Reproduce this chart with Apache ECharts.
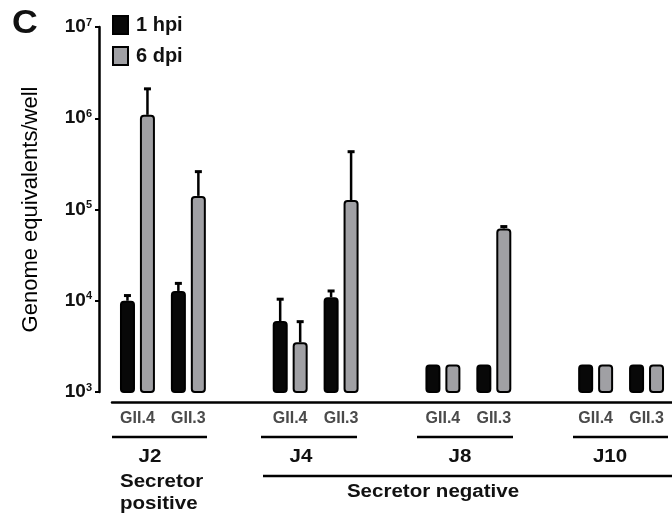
<!DOCTYPE html>
<html><head><meta charset="utf-8">
<script src="https://cdn.jsdelivr.net/npm/echarts@6/dist/echarts.min.js"></script>
<style>html,body{margin:0;padding:0;background:#fff}#c{width:672px;height:516px}</style>
</head><body><div id="c"></div>
<script>
// ---- data ----
const categories = ['J2 GII.4','J2 GII.3','gap-a','J4 GII.4','J4 GII.3','gap-b','J8 GII.4','J8 GII.3','gap-c','J10 GII.4','J10 GII.3'];
const genotypeLabels = ['GII.4','GII.3','','GII.4','GII.3','','GII.4','GII.3','','GII.4','GII.3'];
const seriesNames = ['1 hpi','6 dpi'];
const hpi1 = [10000, 12800, null, 6000, 10900, null, 2000, 2000, null, 2000, 2000];
const dpi6 = [1090000, 141000, null, 3500, 127000, null, 2000, 62000, null, 2000, 2000];
const hpi1Upper = [11400, 15500, null, 10400, 12800, null, null, null, null, null, null];
const dpi6Upper = [2100000, 260000, null, 5900, 430000, null, null, 65000, null, null, null];
const yTickExponents = [3, 4, 5, 6, 7];
const yTitle = 'Genome equivalents/well';
const panelLetter = 'C';
const donorLabels = ['J2', 'J4', 'J8', 'J10'];
const secretorPositive = ['Secretor', 'positive'];
const secretorNegative = 'Secretor negative';

// ---- chart ----
const FONT = '"Liberation Sans", Arial, Helvetica, sans-serif';
const chart = echarts.init(document.getElementById('c'), null, {renderer: 'canvas'});
const BAR_OFF = 10;

function errorSeries(upper, values, offset) {
  const data = [];
  upper.forEach((u, i) => { if (u != null && values[i] != null) data.push([i, values[i], u]); });
  return {
    type: 'custom', z: 1, silent: true,
    encode: {x: 0, y: [1, 2]},
    data: data,
    renderItem(params, api) {
      const i = api.value(0);
      const lo = api.coord([i, api.value(1)]);
      const hi = api.coord([i, api.value(2)]);
      const x = lo[0] + offset;
      return {type: 'group', children: [
        {type: 'line', shape: {x1: x, y1: lo[1], x2: x, y2: hi[1]}, style: {stroke: '#000', lineWidth: 2.5}},
        {type: 'line', shape: {x1: x - 3.5, y1: hi[1], x2: x + 3.5, y2: hi[1]}, style: {stroke: '#000', lineWidth: 3}}
      ]};
    }
  };
}

function txt(text, x, y, size, align, scaleX, weight) {
  return {type: 'text', x: x, y: y, scaleX: scaleX || 1, z: 10,
    style: {text: text, x: 0, y: 0, fontSize: size, fontWeight: weight || 'bold', fontFamily: FONT, fill: '#111',
      align: align, textAlign: align, verticalAlign: 'middle', textVerticalAlign: 'middle'}};
}
function hline(x1, x2, y) {
  return {type: 'line', z: 10, shape: {x1: x1, y1: y, x2: x2, y2: y}, style: {stroke: '#000', lineWidth: 2.5}};
}

const option = {
  animation: false,
  backgroundColor: '#fff',
  textStyle: {fontFamily: FONT},
  grid: {left: 112, right: 0, top: 27, bottom: 124, containLabel: false},
  legend: {
    orient: 'vertical', left: 112, top: 15, padding: 0, itemWidth: 15, itemHeight: 18, itemGap: 11,
    icon: 'rect',
    textStyle: {fontSize: 20, fontWeight: 'bold', color: '#111', fontFamily: FONT, padding: [0, 0, 0, 3]},
    data: [
      {name: seriesNames[0], itemStyle: {color: '#080808', borderColor: '#000', borderWidth: 2}},
      {name: seriesNames[1], itemStyle: {color: '#a0a0a4', borderColor: '#000', borderWidth: 2}}
    ]
  },
  xAxis: {
    type: 'category', data: categories, offset: 10,
    axisLine: {lineStyle: {color: '#000', width: 2.5}},
    axisTick: {alignWithLabel: true, length: 3, lineStyle: {color: '#000', width: 2}},
    axisLabel: {interval: 0, margin: 9, color: '#4a4a4a', fontWeight: 'bold', fontSize: 16, fontFamily: FONT,
      formatter: (v, idx) => genotypeLabels[idx]}
  },
  yAxis: {
    type: 'log', logBase: 10, min: Math.pow(10, yTickExponents[0]), max: Math.pow(10, yTickExponents[yTickExponents.length - 1]),
    offset: 13,
    name: yTitle, nameLocation: 'middle', nameGap: 57, nameRotate: 90,
    nameTextStyle: {fontSize: 22, color: '#000', fontFamily: FONT},
    splitLine: {show: false},
    axisLine: {show: true, lineStyle: {color: '#000', width: 2.5}},
    axisTick: {show: true, length: 4, lineStyle: {color: '#000', width: 2}},
    axisLabel: {
      margin: 7,
      formatter: v => '{b|10}{s|' + Math.round(Math.log10(v)) + '}',
      rich: {
        b: {fontSize: 19, fontWeight: 'bold', color: '#111', fontFamily: FONT, lineHeight: 20},
        s: {fontSize: 11, fontWeight: 'bold', color: '#111', fontFamily: FONT, verticalAlign: 'top', lineHeight: 11}
      }
    }
  },
  series: [
    {name: seriesNames[0], type: 'bar', z: 2, data: hpi1, barWidth: 15, barGap: '33%',
      itemStyle: {color: '#080808', borderColor: '#000', borderWidth: 2, borderRadius: 3}},
    {name: seriesNames[1], type: 'bar', z: 2, data: dpi6, barWidth: 15, barGap: '33%',
      itemStyle: {color: '#a0a0a4', borderColor: '#000', borderWidth: 2, borderRadius: 3}},
    errorSeries(hpi1Upper, hpi1, -BAR_OFF),
    errorSeries(dpi6Upper, dpi6, BAR_OFF)
  ],
  graphic: [
    txt(panelLetter, 12, 24, 34, 'left', 1.05, 'bold'),
    hline(112, 207, 437), hline(261, 357, 437), hline(417, 513, 437), hline(573, 668, 437),
    txt(donorLabels[0], 150, 457, 18, 'center', 1.14),
    txt(donorLabels[1], 301, 457, 18, 'center', 1.14),
    txt(donorLabels[2], 460, 457, 18, 'center', 1.14),
    txt(donorLabels[3], 610, 457, 18, 'center', 1.14),
    txt(secretorPositive[0], 120, 482, 18, 'left', 1.14),
    txt(secretorPositive[1], 120, 504, 18, 'left', 1.14),
    hline(263, 672, 476),
    txt(secretorNegative, 433, 492, 18, 'center', 1.14)
  ]
};
chart.setOption(option);
</script>
</body></html>
